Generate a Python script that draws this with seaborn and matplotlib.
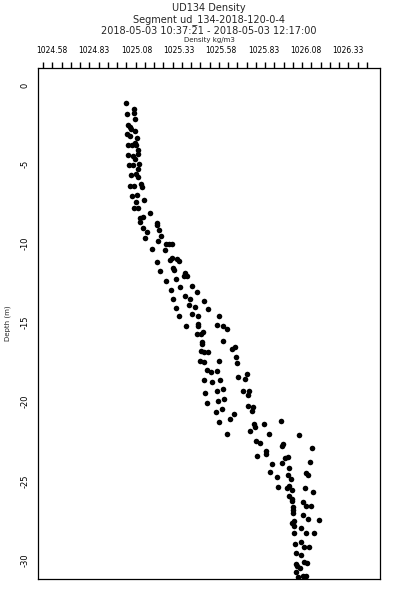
import numpy as np
import pandas as pd
import matplotlib
matplotlib.use("Agg")
import matplotlib.pyplot as plt
import seaborn as sns

# --- data (density kg/m3, depth m) ---
density = [
    1025.016, 1025.066, 1025.021, 1025.066, 1025.071, 1025.027, 1025.041, 1025.047, 1025.071, 1025.021,
    1025.041, 1025.084, 1025.071, 1025.027, 1025.051, 1025.075, 1025.086, 1025.031, 1025.060, 1025.086,
    1025.071, 1025.035, 1025.060, 1025.094, 1025.086, 1025.047, 1025.075, 1025.086, 1025.041, 1025.066,
    1025.106, 1025.114, 1025.055, 1025.081, 1025.075, 1025.125, 1025.066, 1025.086, 1025.159, 1025.120,
    1025.100, 1025.100, 1025.199,
    1025.202, 1025.214, 1025.120, 1025.143, 1025.222, 1025.130, 1025.208, 1025.254, 1025.273, 1025.291,
    1025.248, 1025.169, 1025.287, 1025.277, 1025.317, 1025.331, 1025.199, 1025.293, 1025.301, 1025.218,
    1025.366, 1025.380, 1025.360, 1025.254, 1025.311, 1025.337, 1025.409, 1025.282, 1025.439, 1025.366,
    1025.396, 1025.293, 1025.478, 1025.390, 1025.427, 1025.504, 1025.313, 1025.407, 1025.445, 1025.332,
    1025.569, 1025.374, 1025.445, 1025.445, 1025.557, 1025.592, 1025.616, 1025.439, 1025.459, 1025.474,
    1025.465, 1025.465, 1025.592, 1025.642, 1025.662, 1025.459, 1025.478, 1025.504, 1025.667, 1025.455,
    1025.478, 1025.567, 1025.675, 1025.498, 1025.518, 1025.553, 1025.731, 1025.681, 1025.721, 1025.478,
    1025.524, 1025.573, 1025.589, 1025.553, 1025.707, 1025.746, 1025.484, 1025.737, 1025.597, 1025.563,
    1025.494, 1025.740, 1025.766, 1025.587, 1025.760, 1025.549, 1025.656, 1025.632, 1025.933, 1025.833,
    1025.774, 1025.569, 1025.780, 1025.750, 1025.616, 1025.864, 1026.040, 1025.786, 1025.809, 1025.947,
    1025.941, 1026.115, 1025.843, 1025.845, 1025.793, 1025.973, 1025.957, 1026.105, 1025.938, 1025.878,
    1025.982, 1025.868, 1026.081, 1026.091, 1025.973, 1025.908, 1025.991, 1025.914, 1025.982, 1025.971,
    1025.997, 1026.075, 1026.121, 1025.982, 1026.000, 1025.997, 1026.065, 1026.081, 1026.113, 1026.006,
    1026.003, 1026.006, 1026.062, 1026.091, 1026.160, 1026.010, 1026.000, 1026.010, 1026.050, 1026.012,
    1026.079, 1026.130, 1026.050, 1026.016, 1026.071, 1026.101, 1026.020, 1026.050, 1026.069, 1026.089,
    1026.020, 1026.026, 1026.046, 1026.022, 1026.062, 1026.081, 1026.036,
]
depth = [
    -1.14, -1.52, -1.79, -1.73, -2.15, -2.51, -2.61, -2.79, -2.89, -3.10,
    -3.21, -3.35, -3.63, -3.78, -3.78, -3.78, -4.11, -4.43, -4.48, -4.32,
    -4.68, -5.06, -5.06, -5.00, -5.32, -5.68, -5.63, -5.80, -6.37, -6.37,
    -6.22, -6.44, -7.01, -6.94, -7.36, -7.28, -7.74, -7.74, -8.06, -8.34,
    -8.42, -8.65, -8.69,
    -8.86, -9.16, -9.05, -9.26, -9.54, -9.68, -9.86, -10.06, -10.06, -10.06,
    -10.43, -10.34, -10.91, -11.06, -11.01, -11.08, -11.16, -11.54, -11.65, -11.75,
    -11.86, -12.07, -12.03, -12.34, -12.22, -12.77, -12.70, -12.96, -13.08, -13.34,
    -13.50, -13.50, -13.65, -13.86, -14.03, -14.13, -14.07, -14.45, -14.60, -14.60,
    -14.56, -15.19, -15.07, -15.19, -15.15, -15.19, -15.40, -15.72, -15.72, -15.62,
    -16.22, -16.35, -16.19, -16.65, -16.57, -16.77, -16.88, -16.88, -17.17, -17.41,
    -17.52, -17.45, -17.55, -17.98, -18.12, -18.04, -18.25, -18.46, -18.55, -18.61,
    -18.76, -18.61, -19.18, -19.35, -19.35, -19.29, -19.45, -19.60, -19.81, -19.98,
    -20.09, -20.26, -20.34, -20.45, -20.57, -20.65, -20.76, -21.08, -21.21, -21.41,
    -21.41, -21.31, -21.60, -21.84, -22.05, -22.05, -22.09, -22.47, -22.62, -22.68,
    -22.79, -22.93, -23.10, -23.29, -23.42, -23.47, -23.57, -23.78, -23.88, -23.93,
    -24.16, -24.45, -24.48, -24.62, -24.62, -24.77, -24.88, -25.36, -25.32, -25.47,
    -25.57, -25.47, -25.68, -25.95, -26.14, -26.27, -26.31, -26.59, -26.57, -26.63,
    -26.84, -27.01, -27.16, -27.43, -27.47, -27.54, -27.64, -27.83, -28.00, -28.28,
    -28.31, -28.31, -28.85, -28.99, -29.20, -29.20, -29.58, -29.69, -30.11, -30.17,
    -30.26, -30.38, -30.53, -30.74, -31.02, -31.02, -31.06,
]

x_ticks = [1024.58, 1024.83, 1025.08, 1025.33, 1025.58, 1025.83, 1026.08, 1026.33]
x_tick_labels = ["1024.58", "1024.83", "1025.08", "1025.33", "1025.58", "1025.83", "1026.08", "1026.33"]
y_ticks = [0, -5, -10, -15, -20, -25, -30]

title_lines = ["UD134 Density",
               "Segment ud_134-2018-120-0-4",
               "2018-05-03 10:37:21 - 2018-05-03 12:17:00"]

df = pd.DataFrame({"Density": density, "Depth": depth})

sns.set_theme(style="ticks")
plt.rcParams["font.family"] = ["DejaVu Sans"]
plt.rcParams["xtick.top"] = True
plt.rcParams["xtick.bottom"] = False
plt.rcParams["xtick.major.size"] = 4.5
plt.rcParams["xtick.major.width"] = 1.0
plt.rcParams["xtick.direction"] = "out"

fig = plt.figure(figsize=(4, 6), dpi=100)
ax = fig.add_axes([0.095, 0.035, 0.855, 0.852])

sns.scatterplot(data=df, x="Density", y="Depth", ax=ax, color="black",
                s=16, linewidth=0, marker="o", legend=False)

ax.set_xlim(1024.497, 1026.519)
ax.set_ylim(-31.2, 1.1)

# x axis on top: a row of small unlabelled ticks, labels sit above them
ax.xaxis.set_ticks_position("top")
ax.xaxis.set_label_position("top")
ax.set_xticks(np.linspace(1024.527, 1026.442, 36))
ax.tick_params(axis="x", which="major", top=True, bottom=False, direction="out",
               length=4.5, width=1.0, color="black", labeltop=False, labelbottom=False)
ax.set_xticks(x_ticks, minor=True)
ax.set_xticklabels(x_tick_labels, minor=True)
ax.tick_params(axis="x", which="minor", top=True, bottom=False, length=0, pad=9,
               labeltop=True, labelbottom=False, labelsize=5.5, labelcolor="black")

ax.set_yticks(y_ticks)
ax.set_yticklabels([str(v) for v in y_ticks], rotation=90, va="center")
ax.tick_params(axis="y", which="major", length=0, pad=6, labelsize=6, colors="black")

ax.set_xlabel("Density kg/m3", fontsize=5, labelpad=3)
ax.set_ylabel("Depth (m)", fontsize=5, labelpad=7)

for side in ["top", "bottom", "left", "right"]:
    ax.spines[side].set_visible(True)
    ax.spines[side].set_color("black")
    ax.spines[side].set_linewidth(0.9)

# three-line heading
for text, ypix in zip(title_lines, [8, 20, 31]):
    fig.text(0.5225, 1 - ypix / 600, text, ha="center", va="center", fontsize=7)

fig.savefig("out.png", dpi=100)
